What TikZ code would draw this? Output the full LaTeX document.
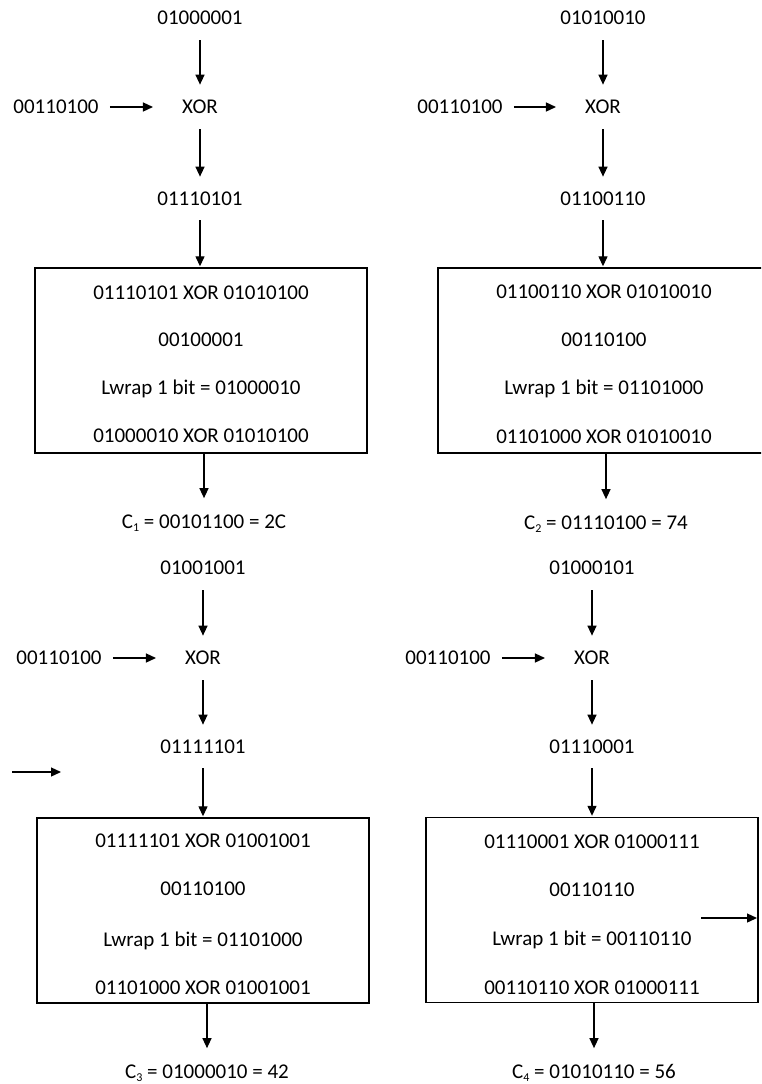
\documentclass[tikz,border=0pt]{standalone}
\usepackage{fontspec}
\setmainfont{Carlito}
\usetikzlibrary{arrows.meta}
\newcommand{\csub}[1]{\raisebox{-2.5pt}{\fontsize{12}{12}\selectfont #1}}
\begin{document}
\begin{tikzpicture}[x=1pt,y=-1pt,
  lbl/.style={inner sep=0pt, text height=13.3pt, text depth=0pt, font=\fontsize{21}{25}\selectfont},
  stepbox/.style={draw, line width=1.4pt, inner sep=0pt, minimum width=332pt, minimum height=185pt},
  arr/.style={line width=1.3pt, -{Triangle[length=10pt,width=9pt]}},
  varr/.style={arr, shorten <=15.5pt, shorten >=15.5pt},
  harr/.style={arr, shorten <=11pt, shorten >=29pt},
  barr/.style={arr, shorten <=14.5pt, shorten >=1pt},
  carr/.style={arr, shorten >=17pt}]
\useasboundingbox (0,0) rectangle (761,1084);
\clip (0,0) rectangle (761,1084);

% ---------- top-left ----------
\node[lbl] (t1) at (200,18) {01000001};
\node[lbl] (k1) at (56,107) {00110100};
\node[lbl] (x1) at (200,107) {XOR};
\node[lbl] (m1) at (200,199) {01110101};
\node[stepbox] (b1) at (201,360.5) {};
\node[lbl] (b1a) at (201,293) {01110101 XOR 01010100};
\node[lbl] (b1b) at (201,340) {00100001};
\node[lbl] (b1c) at (201,388) {Lwrap 1 bit = 01000010};
\node[lbl] (b1d) at (201,436) {01000010 XOR 01010100};
\node[lbl] (c1) at (204,522) {C\csub{1} = 00101100 = 2C};
\draw[varr] (t1) -- (x1);
\draw[harr] (k1) -- (x1);
\draw[varr] (x1) -- (m1);
\draw[barr] (m1) -- (m1 |- b1.north);
\draw[carr] (b1.south -| c1) -- (c1);

% ---------- top-right ----------
\node[lbl] (t2) at (603,18) {01010010};
\node[lbl] (k2) at (460,107) {00110100};
\node[lbl] (x2) at (603,107) {XOR};
\node[lbl] (m2) at (603,199) {01100110};
\node[stepbox] (b2) at (604,360.5) {};
\node[lbl] (b2a) at (604,292) {01100110 XOR 01010010};
\node[lbl] (b2b) at (604,340) {00110100};
\node[lbl] (b2c) at (604,388) {Lwrap 1 bit = 01101000};
\node[lbl] (b2d) at (604,437) {01101000 XOR 01010010};
\node[lbl] (c2) at (606,523) {C\csub{2} = 01110100 = 74};
\draw[varr] (t2) -- (x2);
\draw[harr] (k2) -- (x2);
\draw[varr] (x2) -- (m2);
\draw[barr] (m2) -- (m2 |- b2.north);
\draw[carr] (b2.south -| c2) -- (c2);

% ---------- bottom-left ----------
\node[lbl] (t3) at (203,568) {01001001};
\node[lbl] (k3) at (59,658) {00110100};
\node[lbl] (x3) at (203,658) {XOR};
\node[lbl] (m3) at (203,747) {01111101};
\node[stepbox] (b3) at (203,910.5) {};
\node[lbl] (b3a) at (203,841) {01111101 XOR 01001001};
\node[lbl] (b3b) at (203,889) {00110100};
\node[lbl] (b3c) at (203,940) {Lwrap 1 bit = 01101000};
\node[lbl] (b3d) at (203,988) {01101000 XOR 01001001};
\node[lbl] (c3) at (207,1072) {C\csub{3} = 01000010 = 42};
\draw[varr] (t3) -- (x3);
\draw[harr] (k3) -- (x3);
\draw[varr] (x3) -- (m3);
\draw[barr] (m3) -- (m3 |- b3.north);
\draw[carr] (b3.south -| c3) -- (c3);
\coordinate (s1a) at (12,772);
\coordinate (s1b) at (61,772);
\draw[arr] (s1a) -- (s1b);

% ---------- bottom-right ----------
\node[lbl] (t4) at (592,568) {01000101};
\node[lbl] (k4) at (448,658) {00110100};
\node[lbl] (x4) at (592,658) {XOR};
\node[lbl] (m4) at (592,747) {01110001};
\node[stepbox] (b4) at (592,910) {};
\node[lbl] (b4a) at (592,842) {01110001 XOR 01000111};
\node[lbl] (b4b) at (592,890) {00110110};
\node[lbl] (b4c) at (592,939) {Lwrap 1 bit = 00110110};
\node[lbl] (b4d) at (592,988) {00110110 XOR 01000111};
\node[lbl] (c4) at (594,1072) {C\csub{4} = 01010110 = 56};
\draw[varr] (t4) -- (x4);
\draw[harr] (k4) -- (x4);
\draw[varr] (x4) -- (m4);
\draw[barr] (m4) -- (m4 |- b4.north);
\draw[carr] (b4.south -| c4) -- (c4);
\coordinate (s2a) at (701,918);
\coordinate (s2b) at (757,918);
\draw[arr] (s2a) -- (s2b);
\end{tikzpicture}
\end{document}
